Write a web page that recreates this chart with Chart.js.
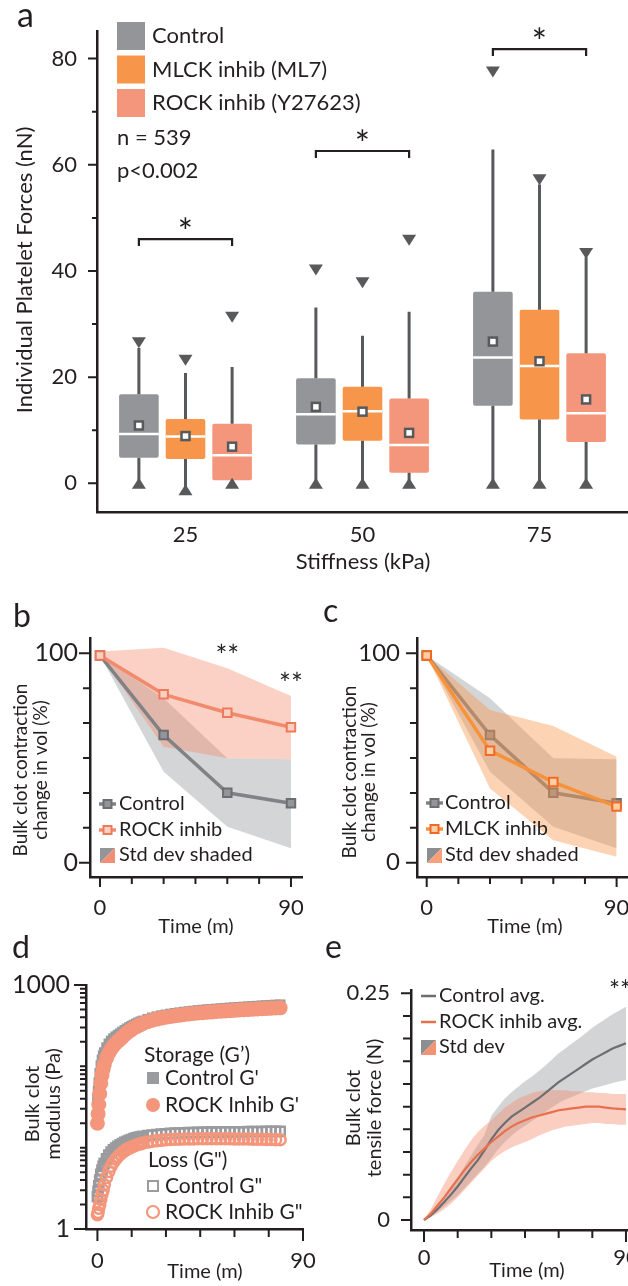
<!DOCTYPE html>
<html>
<head>
<meta charset="utf-8">
<script src="https://cdn.jsdelivr.net/npm/chart.js@4.4.1/dist/chart.umd.min.js"></script>
<style>
  html, body { margin: 0; padding: 0; background: #fff; }
  #page { position: relative; width: 628px; height: 1286px; overflow: hidden; background: #fff; }
  #page canvas { position: absolute; }
</style>
</head>
<body>
<div id="page">
  <canvas id="chartA" width="628" height="600" style="left:0;top:0"></canvas>
  <canvas id="chartB" width="330" height="340" style="left:0;top:595px"></canvas>
  <canvas id="chartC" width="340" height="340" style="left:314px;top:595px"></canvas>
  <canvas id="chartD" width="350" height="351" style="left:0;top:935px"></canvas>
  <canvas id="chartE" width="360" height="351" style="left:314px;top:935px"></canvas>
</div>
<script>
// ---- panel a: platelet forces, box plots ----
const stiffness = ['25', '50', '75'];
const groups = ['Control', 'MLCK inhib (ML7)', 'ROCK inhib (Y27623)'];
const ctrlQ1 = [4.8, 7.3, 14.6];
const ctrlQ3 = [16.8, 19.8, 36.1];
const ctrlMed = [9.3, 13.0, 23.7];
const ctrlMean = [10.9, 14.4, 26.7];
const ctrlHi = [25.5, 33.1, 62.9];
const ctrlMax = [26.5, 40.2, 77.5];
const ctrlMin = [0, 0, 0];
const mlckQ1 = [4.6, 8.0, 12.0];
const mlckQ3 = [12.1, 18.2, 32.7];
const mlckMed = [8.8, 13.6, 22.1];
const mlckMean = [8.9, 13.5, 23.0];
const mlckHi = [20.8, 27.8, 56.3];
const mlckMax = [23.2, 37.8, 57.2];
const mlckMin = [-1.2, 0, 0];
const rockQ1 = [0.6, 2.0, 7.8];
const rockQ3 = [11.2, 16.0, 24.5];
const rockMed = [5.3, 7.2, 13.2];
const rockMean = [6.9, 9.5, 15.8];
const rockHi = [21.9, 32.3, 42.6];
const rockMax = [31.3, 45.8, 43.3];
const rockMin = [0, 0, 0];
const sigLevel = [46.0, 62.6, 81.8];
const aTicks = [0, 10, 20, 30, 40, 50, 60, 70, 80];
const aShow = [0, 20, 40, 60, 80];

// ---- panels b, c: bulk clot contraction ----
const tB = [0, 30, 60, 90];
const ctrlB = [99, 61, 33.4, 28.4];
const ctrlBHi = [99, 78.5, 49.9, 49.4];
const ctrlBLo = [99, 43.5, 17.2, 6.9];
const rockB = [99, 80.4, 71.6, 64.7];
const rockBHi = [100.8, 102.7, 92.8, 79.6];
const rockBLo = [99, 55.4, 49.9, 49.4];
const mlckC = [99, 53.5, 38.5, 26.8];
const mlckCHi = [99, 72.9, 65.3, 50.6];
const mlckCLo = [99, 35.5, 10.8, 2.9];
const volTicks = [0, 100 / 6, 200 / 6, 50, 400 / 6, 500 / 6, 100];
const volShow = [0, 100];
const timeTicks = [0, 15, 30, 45, 60, 75, 90];
const timeShow = [0, 90];

// ---- panel d: rheology ----
const tD = [0, 0.3, 0.6, 1, 1.5, 2, 2.5, 3,
  4, 5, 6, 7, 8, 9, 10, 11, 12, 13, 14, 15, 16, 17, 18, 19, 20,
  22, 24, 26, 28, 30, 32, 34, 36, 38, 40, 42, 44, 46, 48, 50, 52, 54, 56, 58, 60,
  62, 64, 66, 68, 70, 72, 74, 76, 78, 80];
const ctrlStore = [40, 50, 63, 82, 102, 120, 135, 148,
  170, 189, 205, 219, 231, 242, 252, 265, 277, 289, 300, 311, 322, 333, 343, 353, 362,
  379, 395, 408, 420, 430, 440, 449, 457, 465, 472, 479, 486, 492, 498, 503, 508, 513, 518, 523, 528,
  532, 537, 541, 546, 550, 555, 560, 564, 568, 572];
const rockStore = [20, 26, 34, 46, 62, 78, 92, 105,
  127, 146, 163, 178, 192, 204, 215, 230, 245, 259, 272, 284, 296, 307, 318, 328, 338,
  354, 368, 381, 392, 401, 410, 418, 426, 433, 440, 446, 452, 457, 462, 467, 472, 476, 480, 484, 488,
  492, 496, 500, 504, 507, 511, 514, 517, 521, 524];
const ctrlLoss = [2.5, 2.9, 3.4, 4.0, 4.7, 5.3, 5.9, 6.4,
  7.3, 8.1, 8.8, 9.4, 9.9, 10.4, 10.8, 11.2, 11.6, 12.0, 12.3, 12.6, 12.9, 13.2, 13.4, 13.6, 13.8,
  14.1, 14.3, 14.5, 14.7, 14.8, 15.0, 15.1, 15.1, 15.2, 15.3, 15.3, 15.4, 15.4, 15.5, 15.5, 15.5, 15.6, 15.6, 15.6, 15.7,
  15.7, 15.7, 15.8, 15.8, 15.8, 15.8, 15.9, 15.9, 15.9, 15.9];
const rockLoss = [1.5, 1.6, 1.8, 2.0, 2.3, 2.7, 3.0, 3.5,
  4.3, 5.1, 5.9, 6.6, 7.2, 7.8, 8.3, 8.8, 9.2, 9.6, 9.9, 10.2, 10.5, 10.8, 11.0, 11.2, 11.4,
  11.7, 12.0, 12.2, 12.3, 12.5, 12.6, 12.7, 12.7, 12.8, 12.8, 12.8, 12.9, 12.9, 12.9, 12.9, 12.9, 12.9, 12.9, 12.9, 12.8,
  12.8, 12.8, 12.8, 12.7, 12.7, 12.7, 12.6, 12.6, 12.5, 12.5];
const modTicks = [1, 2, 3, 4, 5, 6, 7, 8, 9, 10, 20, 30, 40, 50, 60, 70, 80, 90,
  100, 200, 300, 400, 500, 600, 700, 800, 900, 1000];
const modShow = [1, 1000];

// ---- panel e: tensile force ----
const tE = [0, 3, 6, 9, 12, 15, 18, 21, 24, 27, 30, 33, 36, 39, 42, 45, 48, 51, 54, 57, 60, 63, 66, 69, 72, 75, 78, 81, 84, 87, 90];
const ctrlE = [0, 0.005, 0.012, 0.020, 0.028, 0.037, 0.047, 0.057, 0.066, 0.077, 0.089, 0.099, 0.107, 0.114, 0.119, 0.124,
  0.129, 0.134, 0.140, 0.146, 0.152, 0.157, 0.162, 0.167, 0.172, 0.177, 0.181, 0.185, 0.189, 0.192, 0.195];
const ctrlEHi = [0, 0.006, 0.015, 0.025, 0.035, 0.047, 0.059, 0.071, 0.083, 0.094, 0.115, 0.125, 0.134, 0.141, 0.147, 0.153,
  0.158, 0.164, 0.170, 0.177, 0.184, 0.189, 0.195, 0.200, 0.206, 0.212, 0.217, 0.222, 0.227, 0.231, 0.235];
const ctrlELo = [0, 0.004, 0.009, 0.015, 0.021, 0.027, 0.035, 0.043, 0.051, 0.059, 0.068, 0.078, 0.086, 0.093, 0.099, 0.104,
  0.109, 0.114, 0.119, 0.124, 0.129, 0.133, 0.136, 0.139, 0.142, 0.145, 0.147, 0.149, 0.151, 0.153, 0.154];
const rockE = [0, 0.007, 0.016, 0.025, 0.035, 0.045, 0.055, 0.064, 0.072, 0.079, 0.086, 0.092, 0.098, 0.103, 0.107, 0.110,
  0.113, 0.115, 0.117, 0.119, 0.121, 0.122, 0.123, 0.124, 0.125, 0.125, 0.125, 0.124, 0.123, 0.1225, 0.122];
const rockEHi = [0, 0.012, 0.026, 0.040, 0.053, 0.065, 0.077, 0.088, 0.097, 0.104, 0.110, 0.117, 0.124, 0.129, 0.134, 0.137,
  0.140, 0.142, 0.143, 0.143, 0.143, 0.143, 0.142, 0.142, 0.141, 0.141, 0.140, 0.140, 0.139, 0.139, 0.139];
const rockELo = [0, 0.003, 0.007, 0.012, 0.018, 0.025, 0.033, 0.041, 0.049, 0.057, 0.065, 0.071, 0.076, 0.080, 0.083, 0.086,
  0.089, 0.093, 0.096, 0.099, 0.101, 0.103, 0.104, 0.105, 0.106, 0.107, 0.107, 0.106, 0.106, 0.105, 0.105];
const forceTicks = [0, 0.025, 0.05, 0.075, 0.1, 0.125, 0.15, 0.175, 0.2, 0.225, 0.25];
const forceShow = [0, 0.25];

// colours
const FONT = 'Lato, "Open Sans", sans-serif';
const INK = '#231f20';
const GREY = '#939598';
const ORANGE = '#f7964a';
const SALMON = '#f4967b';
const WHISK = '#58595b';

Chart.defaults.font.family = FONT;
Chart.defaults.color = INK;

// tick marks drawn by hand so labelled ticks can be longer
Chart.register({
  id: 'tickMarks',
  afterDraw(chart, args, o) {
    const ctx = chart.ctx, a = chart.chartArea;
    const xs = chart.scales.x, ys = chart.scales.y;
    ctx.save();
    ctx.strokeStyle = INK;
    ctx.lineWidth = 2;
    ctx.beginPath();
    if (o.yMaj) ys.ticks.forEach(t => {
      const p = ys.getPixelForValue(t.value);
      ctx.moveTo(a.left, p);
      ctx.lineTo(a.left - (t.label ? o.yMaj : o.yMin), p);
    });
    if (o.xMaj) xs.ticks.forEach(t => {
      const p = xs.getPixelForValue(t.value);
      ctx.moveTo(p, a.bottom);
      ctx.lineTo(p, a.bottom + (t.label ? o.xMaj : o.xMin));
    });
    ctx.stroke();
    ctx.restore();
  }
});

function numAxis(o) {
  return {
    type: o.type || 'linear', min: o.min, max: o.max,
    afterBuildTicks: s => { s.ticks = o.ticks.map(v => ({value: v})); },
    afterFit: s => { if (o.width) s.width = o.width; if (o.height) s.height = o.height; },
    grid: {drawOnChartArea: false, drawTicks: false},
    border: {color: INK, width: 2.5},
    ticks: {
      autoSkip: false, maxRotation: 0, padding: o.pad, color: INK,
      font: {family: FONT, size: o.size || 22, lineHeight: 1},
      callback: v => o.show.includes(v) ? String(v) : ''
    }
  };
}

function baseOpts(pad, extra) {
  return Object.assign({
    responsive: false, animation: false, events: [],
    layout: {padding: pad},
    plugins: {legend: {display: false}, tooltip: {enabled: false}}
  }, extra);
}

// text helpers (page coordinates, see deco)
function write(c, s, x, y, size, align, base) {
  c.font = size + 'px ' + FONT;
  c.fillStyle = INK;
  c.textAlign = align || 'left';
  c.textBaseline = base || 'middle';
  c.fillText(s, x, y);
}
function writeUp(c, lines, x, y, size, lh) {
  c.save();
  c.translate(x, y);
  c.rotate(-Math.PI / 2);
  c.font = size + 'px ' + FONT;
  c.fillStyle = INK;
  c.textAlign = 'center';
  c.textBaseline = 'middle';
  lines.forEach((s, i) => c.fillText(s, 0, i * lh));
  c.restore();
}
function splitSwatch(c, x, y, s, c1, c2) {
  c.fillStyle = c1;
  c.beginPath(); c.moveTo(x, y); c.lineTo(x + s, y); c.lineTo(x, y + s); c.closePath(); c.fill();
  c.fillStyle = c2;
  c.beginPath(); c.moveTo(x + s, y); c.lineTo(x + s, y + s); c.lineTo(x, y + s); c.closePath(); c.fill();
}
function lineSwatch(c, x, y, col, fill, border) {
  c.strokeStyle = col; c.lineWidth = 3.5;
  c.beginPath(); c.moveTo(x, y); c.lineTo(x + 17, y); c.stroke();
  c.fillStyle = fill; c.fillRect(x + 4.5, y - 4, 8, 8);
  c.strokeStyle = border; c.lineWidth = 2; c.strokeRect(x + 4.5, y - 4, 8, 8);
}
// L,T = canvas offset on the page, so static text can use page coordinates
function deco(L, T, fn) {
  return {
    id: 'deco',
    afterDraw(chart) {
      const c = chart.ctx;
      c.save();
      c.translate(-L, -T);
      fn(c, chart, L, T);
      c.restore();
    }
  };
}

// ---------- a ----------
function tri(ctx, x, y, dir) {
  ctx.fillStyle = WHISK;
  ctx.beginPath();
  ctx.moveTo(x - 7, y - 5.5 * dir);
  ctx.lineTo(x + 7, y - 5.5 * dir);
  ctx.lineTo(x, y + 5.5 * dir);
  ctx.closePath();
  ctx.fill();
}
const boxWhiskers = {
  id: 'boxWhiskers',
  afterDatasetsDraw(chart) {
    const ctx = chart.ctx, y = chart.scales.y;
    chart.data.datasets.forEach((ds, i) => {
      const st = ds.stats;
      chart.getDatasetMeta(i).data.forEach((bar, j) => {
        const x = bar.x, w = bar.width;
        const top = y.getPixelForValue(ds.data[j][1]);
        const bot = y.getPixelForValue(ds.data[j][0]);
        ctx.save();
        ctx.strokeStyle = WHISK;
        ctx.lineWidth = 3;
        ctx.beginPath();
        ctx.moveTo(x, top); ctx.lineTo(x, y.getPixelForValue(st.hi[j]));
        ctx.moveTo(x, bot); ctx.lineTo(x, y.getPixelForValue(st.min[j]));
        ctx.stroke();
        tri(ctx, x, y.getPixelForValue(st.max[j]), 1);
        tri(ctx, x, y.getPixelForValue(st.min[j]), -1);
        const m = y.getPixelForValue(st.med[j]);
        ctx.strokeStyle = '#fff';
        ctx.lineWidth = 2.5;
        ctx.beginPath(); ctx.moveTo(x - w / 2, m); ctx.lineTo(x + w / 2, m); ctx.stroke();
        const mu = y.getPixelForValue(st.mean[j]);
        ctx.fillStyle = '#fff';
        ctx.fillRect(x - 4.5, mu - 4.5, 9, 9);
        ctx.strokeStyle = WHISK;
        ctx.lineWidth = 2.5;
        ctx.strokeRect(x - 4, mu - 4, 8, 8);
        ctx.restore();
      });
    });
  }
};

new Chart(document.getElementById('chartA'), {
  type: 'bar',
  data: {
    labels: stiffness,
    datasets: [
      {label: groups[0], data: ctrlQ1.map((v, i) => [v, ctrlQ3[i]]), backgroundColor: GREY,
        stats: {med: ctrlMed, mean: ctrlMean, hi: ctrlHi, max: ctrlMax, min: ctrlMin}},
      {label: groups[1], data: mlckQ1.map((v, i) => [v, mlckQ3[i]]), backgroundColor: ORANGE,
        stats: {med: mlckMed, mean: mlckMean, hi: mlckHi, max: mlckMax, min: mlckMin}},
      {label: groups[2], data: rockQ1.map((v, i) => [v, rockQ3[i]]), backgroundColor: SALMON,
        stats: {med: rockMed, mean: rockMean, hi: rockHi, max: rockMax, min: rockMin}}
    ]
  },
  options: baseOpts({left: 0, top: 27, right: 0, bottom: 48}, {
    datasets: {bar: {barPercentage: 0.85, categoryPercentage: 0.79, borderRadius: 2, borderSkipped: false}},
    scales: {
      x: {
        type: 'category',
        afterFit: s => { s.height = 40; },
        grid: {drawOnChartArea: false, drawTicks: false},
        border: {color: INK, width: 2.5},
        ticks: {padding: 12, color: INK, font: {family: FONT, size: 22, lineHeight: 1}}
      },
      y: numAxis({min: -5.4, max: 85.2, ticks: aTicks, show: aShow, pad: 20, width: 97})
    },
    plugins: {legend: {display: false}, tooltip: {enabled: false}, tickMarks: {yMaj: 9, yMin: 5}}
  }),
  plugins: [boxWhiskers, deco(0, 0, (c, chart) => {
    write(c, 'a', 17, 27, 34, 'left', 'alphabetic');
    // legend
    [GREY, ORANGE, SALMON].forEach((col, i) => {
      const y = 36 + i * 33.5;
      c.fillStyle = col;
      c.fillRect(117, y - 14, 28, 28);
      write(c, groups[i], 152, y, 22);
    });
    write(c, 'n = 539', 117, 138, 22);
    write(c, 'p<0.002', 117, 171, 22);
    writeUp(c, ['Individual Platelet Forces (nN)'], 25, 270, 22, 0);
    write(c, 'Stiffness (kPa)', 363, 562, 22, 'center');
    // significance brackets, control vs ROCK
    const y = chart.scales.y;
    const m0 = chart.getDatasetMeta(0).data, m2 = chart.getDatasetMeta(2).data;
    c.strokeStyle = INK;
    c.lineWidth = 2.2;
    sigLevel.forEach((v, j) => {
      const py = y.getPixelForValue(v), x1 = m0[j].x, x2 = m2[j].x;
      c.beginPath();
      c.moveTo(x1, py + 7); c.lineTo(x1, py); c.lineTo(x2, py); c.lineTo(x2, py + 7);
      c.stroke();
      write(c, '*', (x1 + x2) / 2, py + 6, 36, 'center', 'alphabetic');
    });
  })]
});

// ---------- b & c ----------
function pts(xs, ys) { return xs.map((x, i) => ({x: x, y: ys[i]})); }
function band(data, col, fill) {
  return {data: data, fill: fill, backgroundColor: col, borderColor: 'rgba(0,0,0,0)', borderWidth: 0,
    pointRadius: 0, pointHitRadius: 0, tension: 0};
}
function meanLine(data, col, fill, border, order) {
  return {data: data, borderColor: col, borderWidth: 3.5, fill: false, tension: 0, order: order,
    pointStyle: 'rect', pointRadius: 6, pointBackgroundColor: fill, pointBorderColor: border, pointBorderWidth: 2};
}
const GREY_BAND = 'rgba(160,162,165,0.45)';
const ROCK_BAND = 'rgba(244,140,110,0.40)';
const MLCK_BAND = 'rgba(247,150,74,0.42)';

new Chart(document.getElementById('chartB'), {
  type: 'line',
  data: {datasets: [
    meanLine(pts(tB, rockB), '#f28b6e', '#fbd0c2', '#ee7a5c', 0),
    meanLine(pts(tB, ctrlB), '#808285', '#939598', '#6d6e71', 1),
    Object.assign(band(pts(tB, rockBHi), ROCK_BAND, '+1'), {order: 2}),
    Object.assign(band(pts(tB, rockBLo), ROCK_BAND, false), {order: 3}),
    Object.assign(band(pts(tB, ctrlBHi), GREY_BAND, '+1'), {order: 4}),
    Object.assign(band(pts(tB, ctrlBLo), GREY_BAND, false), {order: 5})
  ]},
  options: baseOpts({left: 0, top: 43, right: 28, bottom: 13}, {
    scales: {
      x: numAxis({min: -4.7, max: 95.2, ticks: timeTicks, show: timeShow, pad: 20, height: 45}),
      y: numAxis({min: -6.8, max: 107.3, ticks: volTicks, show: volShow, pad: 12, width: 90, size: 25})
    },
    plugins: {legend: {display: false}, tooltip: {enabled: false}, tickMarks: {yMaj: 11, yMin: 7, xMaj: 10, xMin: 7}}
  }),
  plugins: [deco(0, 595, (c, chart, L, T) => {
    write(c, 'b', 13, 627, 32, 'left', 'alphabetic');
    writeUp(c, ['Bulk clot contraction', 'change in vol (%)'], 21, 770, 19, 20);
    write(c, 'Time (m)', 196, 927, 20, 'center');
    lineSwatch(c, 99, 804, '#808285', '#939598', '#6d6e71');
    write(c, 'Control', 119, 804, 20);
    lineSwatch(c, 99, 830, '#f28b6e', '#fbd0c2', '#ee7a5c');
    write(c, 'ROCK inhib', 119, 830, 20);
    splitSwatch(c, 100, 848, 15, GREY, '#f38d73');
    write(c, 'Std dev shaded', 119, 855, 20);
    const xs = chart.scales.x, ys = chart.scales.y;
    write(c, '**', xs.getPixelForValue(60) + L, ys.getPixelForValue(100) + T + 13, 28, 'center', 'alphabetic');
    write(c, '**', xs.getPixelForValue(90) + L, ys.getPixelForValue(87) + T + 13, 28, 'center', 'alphabetic');
  })]
});

new Chart(document.getElementById('chartC'), {
  type: 'line',
  data: {datasets: [
    meanLine(pts(tB, mlckC), '#f7923a', '#fdcfa6', '#f26a22', 0),
    Object.assign(band(pts(tB, mlckCHi), MLCK_BAND, '+1'), {order: 1}),
    Object.assign(band(pts(tB, mlckCLo), MLCK_BAND, false), {order: 2}),
    meanLine(pts(tB, ctrlB), '#808285', '#939598', '#6d6e71', 3),
    Object.assign(band(pts(tB, ctrlBHi), GREY_BAND, '+1'), {order: 4}),
    Object.assign(band(pts(tB, ctrlBLo), GREY_BAND, false), {order: 5})
  ]},
  options: baseOpts({left: 0, top: 43, right: 26, bottom: 13}, {
    scales: {
      x: numAxis({min: -4.6, max: 95.4, ticks: timeTicks, show: timeShow, pad: 20, height: 45}),
      y: numAxis({min: -6.8, max: 107.3, ticks: volTicks, show: volShow, pad: 17, width: 103, size: 24})
    },
    plugins: {legend: {display: false}, tooltip: {enabled: false}, tickMarks: {yMaj: 11, yMin: 7, xMaj: 10, xMin: 7}}
  }),
  plugins: [deco(314, 595, c => {
    write(c, 'c', 323, 622, 32, 'left', 'alphabetic');
    writeUp(c, ['Bulk clot contraction', 'change in vol (%)'], 350, 772, 19, 19);
    write(c, 'Time (m)', 525, 927, 20, 'center');
    lineSwatch(c, 426, 803, '#808285', '#939598', '#6d6e71');
    write(c, 'Control', 445, 803, 20);
    lineSwatch(c, 426, 829, '#f7923a', '#fdcfa6', '#f26a22');
    write(c, 'MLCK inhib', 445, 829, 20);
    splitSwatch(c, 427, 848, 15, '#8d8e91', '#f7a07a');
    write(c, 'Std dev shaded', 445, 855, 20);
  })]
});

// ---------- d ----------
new Chart(document.getElementById('chartD'), {
  type: 'scatter',
  data: {datasets: [
    {label: "ROCK Inhib G'", data: pts(tD, rockStore), pointStyle: 'circle', pointRadius: 7.5,
      backgroundColor: SALMON, borderWidth: 0, order: 0},
    {label: "Control G'", data: pts(tD, ctrlStore), pointStyle: 'rect', pointRadius: 7.5,
      backgroundColor: '#9a9b9e', borderWidth: 0, order: 1},
    {label: 'ROCK Inhib G"', data: pts(tD, rockLoss), pointStyle: 'circle', pointRadius: 5.5,
      backgroundColor: 'rgba(0,0,0,0)', borderColor: SALMON, borderWidth: 2.5, order: 2},
    {label: 'Control G"', data: pts(tD, ctrlLoss), pointStyle: 'rect', pointRadius: 6.5,
      backgroundColor: 'rgba(0,0,0,0)', borderColor: '#9a9b9e', borderWidth: 2.5, order: 3}
  ]},
  options: baseOpts({left: 0, top: 50, right: 47, bottom: 12}, {
    scales: {
      x: numAxis({min: -5, max: 90, ticks: timeTicks, show: timeShow, pad: 21, height: 45}),
      y: numAxis({type: 'logarithmic', min: 1, max: 1000, ticks: modTicks, show: modShow, pad: 16, width: 86, size: 25})
    },
    plugins: {legend: {display: false}, tooltip: {enabled: false}, tickMarks: {yMaj: 12, yMin: 6, xMaj: 12, xMin: 8}}
  }),
  plugins: [deco(0, 935, c => {
    write(c, 'd', 12, 958, 32, 'left', 'alphabetic');
    writeUp(c, ['Bulk clot', 'modulus (Pa)'], 33, 1104, 20, 21);
    write(c, 'Time (m)', 205, 1272, 20, 'center');
    write(c, 'Storage (G\u2019)', 144, 1055, 21);
    c.fillStyle = '#9a9b9e'; c.fillRect(147, 1072, 12, 12);
    write(c, "Control G'", 165, 1078, 21);
    c.fillStyle = SALMON; c.beginPath(); c.arc(153, 1105, 7, 0, Math.PI * 2); c.fill();
    write(c, "ROCK Inhib G'", 165, 1105, 21);
    write(c, 'Loss (G")', 148, 1160, 21);
    c.strokeStyle = '#9a9b9e'; c.lineWidth = 2; c.strokeRect(148, 1181, 10, 10);
    write(c, 'Control G"', 165, 1186, 21);
    c.strokeStyle = SALMON; c.lineWidth = 2.2; c.beginPath(); c.arc(153, 1212, 6, 0, Math.PI * 2); c.stroke();
    write(c, 'ROCK Inhib G"', 165, 1212, 21);
  })]
});

// ---------- e ----------
const GREY_BAND_E = 'rgba(167,169,172,0.5)';
const ROCK_BAND_E = 'rgba(244,140,110,0.42)';
new Chart(document.getElementById('chartE'), {
  type: 'line',
  data: {datasets: [
    {label: 'ROCK inhib avg.', data: pts(tE, rockE), borderColor: '#e8704f', borderWidth: 2.2, pointRadius: 0, fill: false, order: 0},
    {label: 'Control avg.', data: pts(tE, ctrlE), borderColor: '#6d6e71', borderWidth: 2.2, pointRadius: 0, fill: false, order: 1},
    Object.assign(band(pts(tE, rockEHi), ROCK_BAND_E, '+1'), {order: 2}),
    Object.assign(band(pts(tE, rockELo), ROCK_BAND_E, false), {order: 3}),
    Object.assign(band(pts(tE, ctrlEHi), GREY_BAND_E, '+1'), {order: 4}),
    Object.assign(band(pts(tE, ctrlELo), GREY_BAND_E, false), {order: 5})
  ]},
  options: baseOpts({left: 0, top: 55, right: 46, bottom: 11}, {
    scales: {
      x: numAxis({min: -5.8, max: 90.9, ticks: timeTicks, show: timeShow, pad: 17, height: 45}),
      y: numAxis({min: -0.011, max: 0.2536, ticks: forceTicks, show: forceShow, pad: 21, width: 97})
    },
    plugins: {legend: {display: false}, tooltip: {enabled: false}, tickMarks: {yMaj: 10, yMin: 8, xMaj: 12, xMin: 8}}
  }),
  plugins: [deco(314, 935, c => {
    write(c, 'e', 325, 958, 32, 'left', 'alphabetic');
    writeUp(c, ['Bulk clot', 'tensile force (N)'], 354, 1108, 20, 21);
    write(c, 'Time (m)', 527, 1271, 20, 'center');
    c.lineWidth = 2.5;
    c.strokeStyle = '#6d6e71'; c.beginPath(); c.moveTo(421, 996); c.lineTo(436, 996); c.stroke();
    write(c, 'Control avg.', 439, 996, 20);
    c.strokeStyle = '#e8704f'; c.beginPath(); c.moveTo(421, 1022); c.lineTo(436, 1022); c.stroke();
    write(c, 'ROCK inhib avg.', 439, 1022, 20);
    splitSwatch(c, 421, 1040, 15, '#8d8e91', '#f49373');
    write(c, 'Std dev', 439, 1047, 20);
    write(c, '**', 620, 1000, 26, 'center', 'alphabetic');
  })]
});
</script>
</body>
</html>
